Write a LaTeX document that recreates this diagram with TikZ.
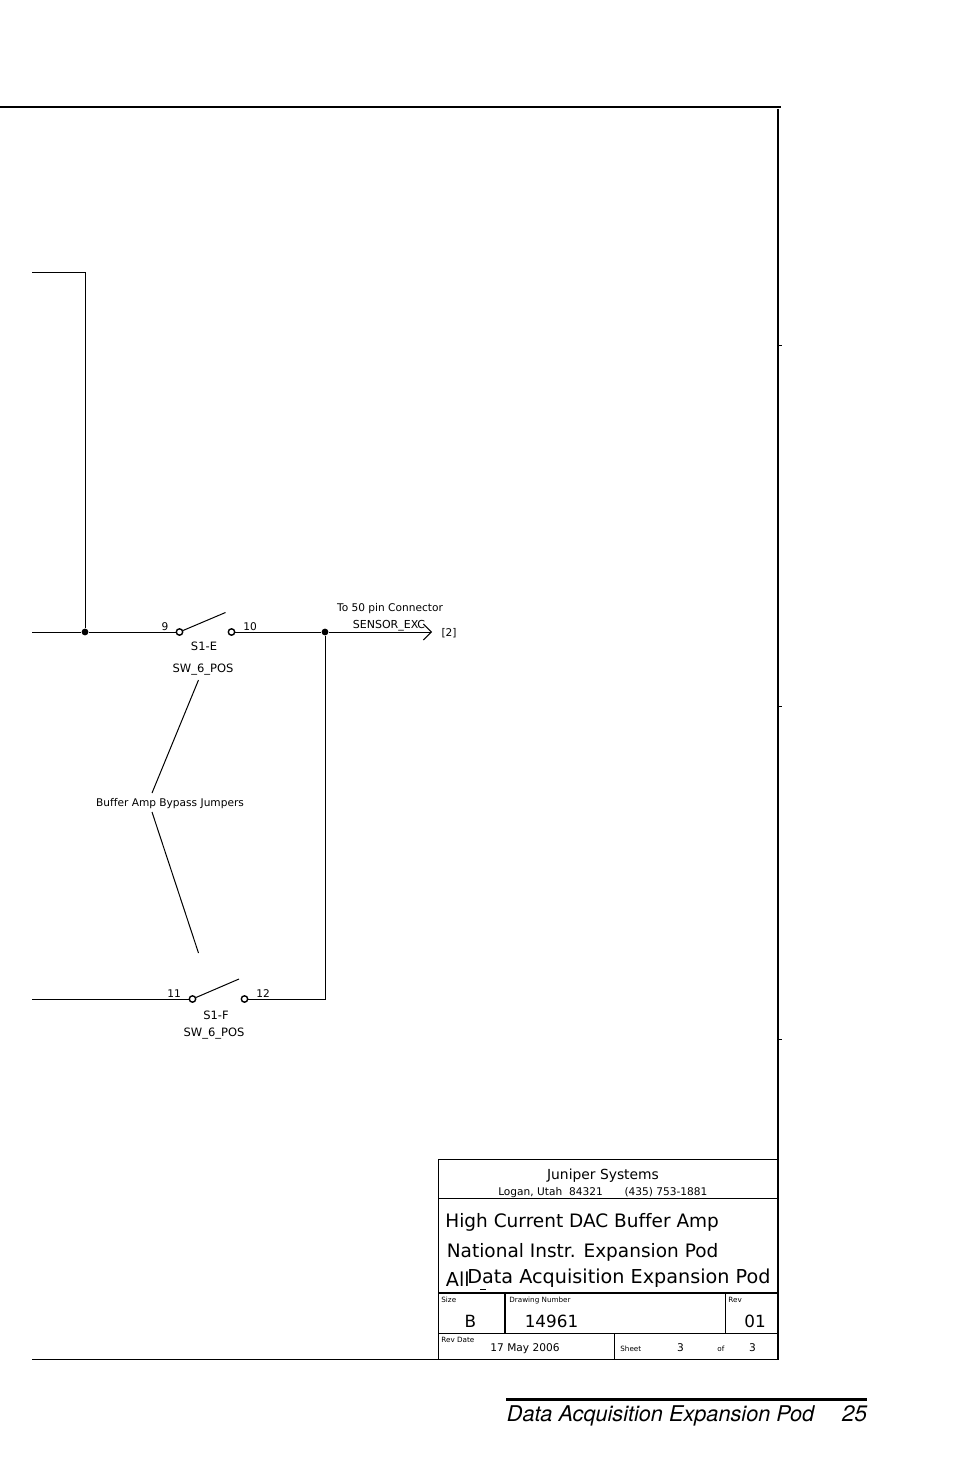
\documentclass[tikz,border=0pt]{standalone}
\usepackage{fontspec}
\setmainfont[Ligatures=NoCommon]{DejaVu Sans}
\newfontfamily\footfont{TeX Gyre Heros}
\usetikzlibrary{arrows.meta}
\begin{document}
\begin{tikzpicture}[
    x=0.5pt, y=-0.5pt,
    wire/.style={draw, line width=0.5pt},
    frameline/.style={draw, line width=1pt},
    dot/.style={circle, fill, inner sep=0pt, minimum size=3.4pt},
    pin/.style={circle, draw, fill=white, line width=0.7pt, inner sep=0pt, minimum size=3.2pt},
    tiny/.style={inner sep=0pt, anchor=base, font=\fontsize{5.3}{6}\selectfont},
    tag/.style={inner sep=0pt, anchor=base, font=\fontsize{5.75}{7}\selectfont},
    mini/.style={inner sep=0pt, anchor=base west, font=\fontsize{3.6}{4}\selectfont},
    big/.style={inner sep=0pt, anchor=base west, font=\fontsize{9.25}{11}\selectfont},
    mid/.style={inner sep=0pt, anchor=base, font=\fontsize{8.4}{9}\selectfont}
]
    \useasboundingbox (0,0) rectangle (954,1475);

    % Frame
    \coordinate (frameTL) at (0,107);
    \coordinate (frameTR) at (781,107);
    \coordinate (frameR1) at (778,109);
    \coordinate (frameR2) at (778,1360);
    \draw[frameline] (frameTL) -- (frameTR);
    \draw[frameline] (frameR1) -- (frameR2);
    \foreach \y/\name in {345/tickA, 706/tickB, 1039/tickC} {
        \coordinate (\name) at (778,\y);
        \draw[wire, line width=0.3pt] (\name) -- ++(3.5,0);
    }

    % Nodes
    \node[dot] (junA) at (85,632) {};
    \node[dot] (junB) at (325,632) {};
    \node[pin] (pinE1) at (179.5,632) {};
    \node[pin] (pinE2) at (231.5,632) {};
    \node[pin] (pinF1) at (192.5,999) {};
    \node[pin] (pinF2) at (244.5,999) {};
    \coordinate (wireTop) at (32,272.5);
    \coordinate (wireE) at (32,632);
    \coordinate (wireF) at (32,999);
    \coordinate (armE) at (225.5,612.5);
    \coordinate (armF) at (239,979);
    \coordinate (cornerTop) at (85,272.5);
    \coordinate (cornerF) at (325,999);
    \coordinate (excEnd) at (432,632);
    \coordinate (jumpA1) at (198.5,680);
    \coordinate (jumpA2) at (152,793);
    \coordinate (jumpB1) at (152,812);
    \coordinate (jumpB2) at (198.5,953);

    % Labels
    \node[tiny] (lblnine) at (165,630) {9};
    \node[tiny] (lblten) at (250,630) {10};
    \node[tag] (lblse) at (204,650) {S1-E};
    \node[tag] (lblswe) at (203,672) {SW\_6\_POS};
    \node[tiny] (lblconn) at (390,611) {To 50 pin Connector};
    \node[tag, font=\fontsize{5.5}{7}\selectfont] (lblexc) at (389,628) {SENSOR\_EXC};
    \node[tiny] (lblsheet) at (449,636) {[2]};
    \node[tiny] (lblbuf) at (170,806) {Buffer Amp Bypass Jumpers};
    \node[tiny] (lbleleven) at (174,997) {11};
    \node[tiny] (lbltwelve) at (263,997) {12};
    \node[tag] (lblsf) at (216,1019) {S1-F};
    \node[tag] (lblswf) at (214,1036) {SW\_6\_POS};

    % Arrows
    \draw[wire] (wireTop) -- (cornerTop) -- (junA);
    \draw[wire] (wireE) -- (junA) -- (pinE1);
    \draw[wire] (pinE1) -- (armE);
    \draw[wire] (pinE2) -- (junB);
    \draw[wire, -{Straight Barb[length=4pt, width=8pt]}] (junB) -- (excEnd);
    \draw[wire] (junB) -- (cornerF) -- (pinF2);
    \draw[wire] (wireF) -- (pinF1);
    \draw[wire] (pinF1) -- (armF);
    \draw[wire] (jumpA1) -- (jumpA2);
    \draw[wire] (jumpB1) -- (jumpB2);

    % Title block
    \coordinate (tbTL) at (438,1159);
    \coordinate (tbTR) at (778,1159);
    \coordinate (tbBL) at (438,1360);
    \coordinate (tbA1) at (438,1198);
    \coordinate (tbA2) at (778,1198);
    \coordinate (tbB1) at (438,1292.5);
    \coordinate (tbB2) at (778,1292.5);
    \coordinate (tbC1) at (438,1333);
    \coordinate (tbC2) at (778,1333);
    \coordinate (tbD1) at (32,1359.5);
    \coordinate (tbD2) at (778,1359.5);
    \coordinate (sizeTop) at (505,1292.5);
    \coordinate (sizeBot) at (505,1333);
    \coordinate (revTop) at (725,1292.5);
    \coordinate (revBot) at (725,1333);
    \coordinate (sheetTop) at (614.5,1333);
    \coordinate (sheetBot) at (614.5,1360);
    \draw[wire] (tbTL) -- (tbTR);
    \draw[wire] (tbTL) -- (tbBL);
    \draw[wire] (tbA1) -- (tbA2);
    \draw[wire, line width=1pt] (tbB1) -- (tbB2);
    \draw[wire] (tbC1) -- (tbC2);
    \draw[wire] (tbD1) -- (tbD2);
    \draw[wire, line width=0.8pt] (sizeTop) -- (sizeBot);
    \draw[wire] (revTop) -- (revBot);
    \draw[wire] (sheetTop) -- (sheetBot);

    \node[mid, font=\fontsize{6.93}{9}\selectfont] (company) at (603,1179) {Juniper Systems};
    \node[tiny] (city) at (550.5,1195) {Logan, Utah\ \ 84321};
    \node[tiny] (phone) at (666,1195) {(435) 753-1881};
    \node[big] (titleA) at (445,1227) {High Current DAC Buffer Amp};
    \node[big] (titleB) at (446.5,1257) {National Instr. Expansion Pod};
    \node[big, font=\fontsize{9.6}{11}\selectfont] (titleC) at (445.5,1286) {All};
    \node[big, font=\fontsize{9.6}{11}\selectfont] (titleD) at (467,1283) {Data Acquisition Expansion Pod};
    \coordinate (stubA) at (480,1289.5);
    \draw[wire, line width=0.4pt] (stubA) -- ++(6,0);
    \node[mini] (lblsize) at (441,1302) {Size};
    \node[mini] (lbldrw) at (509,1302) {Drawing Number};
    \node[mini] (lblrev) at (728,1302) {Rev};
    \node[mini] (lblrevd) at (441,1342) {Rev Date};
    \node[mini] (lblsht) at (620,1351) {Sheet};
    \node[mini] (lblof) at (717,1351) {of};
    \node[mid] (sizeB) at (470.5,1327) {B};
    \node[mid] (drwnum) at (551.5,1327) {14961};
    \node[mid] (revnum) at (755,1327) {01};
    \node[tiny] (revdate) at (525,1351) {17 May 2006};
    \node[tiny] (shtnum) at (680.5,1351) {3};
    \node[tiny] (shtof) at (752.5,1351) {3};

    % Footer
    \coordinate (ruleL) at (506,1399);
    \coordinate (ruleR) at (867,1399);
    \draw[line width=1.5pt] (ruleL) -- (ruleR);
    \node[inner sep=0pt, anchor=base west, font=\footfont\itshape\fontsize{10.85}{13}\selectfont] (footname) at (506.5,1421) {Data Acquisition Expansion Pod};
    \node[inner sep=0pt, anchor=base east, font=\footfont\itshape\fontsize{11.2}{13}\selectfont] (footpage) at (867.5,1421) {25};
\end{tikzpicture}
\end{document}
